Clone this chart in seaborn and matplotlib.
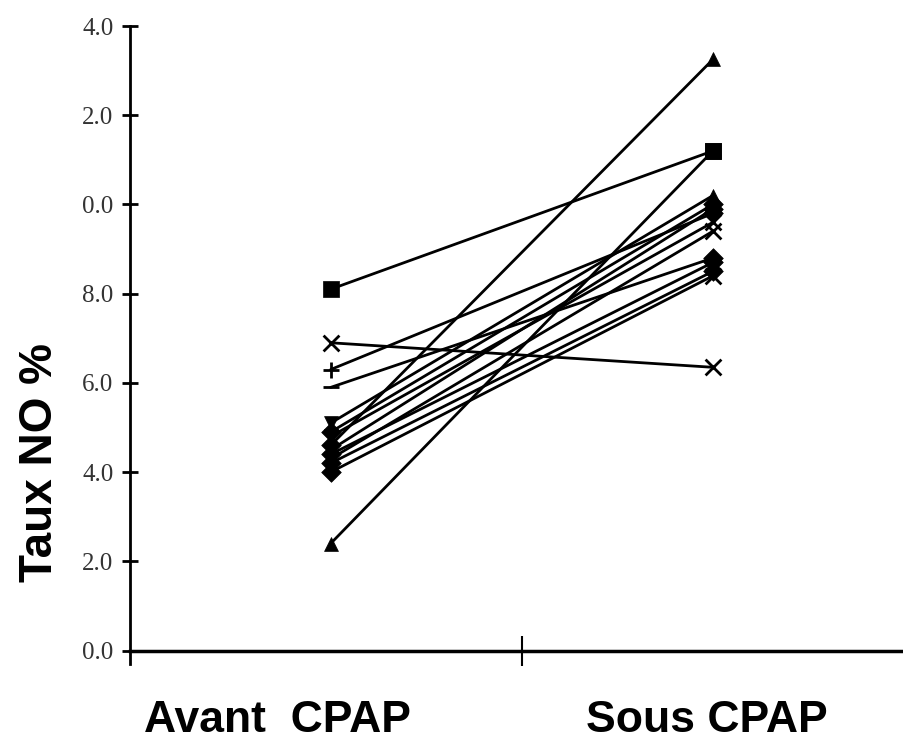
import matplotlib
matplotlib.use("Agg")
import matplotlib.pyplot as plt
import seaborn as sns
import pandas as pd

# ---- data ----
conditions = ["Avant  CPAP", "Sous CPAP"]
avant = [8.1, 6.9, 6.3, 5.9, 5.1, 4.9, 4.8, 4.6, 4.5, 4.4, 4.3, 4.2, 4.0, 2.4]
sous = [11.2, 6.35, 9.8, 8.8, 10.2, 10.0, 9.6, 13.25, 9.9, 8.7, 9.4, 8.5, 8.4, 11.2]
avant_markers = ["s", "x", "+", "_", "v", "D", "v", "D", "v", "D", "v", "D", "D", "^"]
sous_markers = ["s", "x", "D", "D", "^", "D", "x", "^", "D", "D", "x", "D", "x", "s"]
ytick_values = [0, 2, 4, 6, 8, 10, 12, 14]
ytick_labels = ["0.0", "2.0", "4.0", "6.0", "8.0", "0.0", "2.0", "4.0"]
ylabel = "Taux NO %"

x_pos = [0.5, 1.5]

rows = []
for i, (a, s) in enumerate(zip(avant, sous)):
    rows.append({"subject": i, "x": x_pos[0], "val": a, "marker": avant_markers[i]})
    rows.append({"subject": i, "x": x_pos[1], "val": s, "marker": sous_markers[i]})
df = pd.DataFrame(rows)

sns.set_style("white")
fig = plt.figure(figsize=(9.04, 7.48), dpi=100)
ax = fig.add_axes([130 / 904, 1 - 664 / 748, 1 - 130 / 904, (664 - 26) / 748])

sns.lineplot(data=df, x="x", y="val", units="subject", estimator=None,
             color="black", linewidth=2.0, ax=ax, legend=False)

for m, grp in df.groupby("marker"):
    filled = m in ("s", "D", "^", "v")
    kw = dict(color="black", ax=ax, legend=False, zorder=5)
    if filled:
        size = 120 if m == "s" else 100
        sns.scatterplot(data=grp, x="x", y="val", marker=m, s=size,
                        edgecolor="black", linewidth=0.5, **kw)
    else:
        sns.scatterplot(data=grp, x="x", y="val", marker=m, s=130,
                        linewidth=2.0, **kw)

ax.set_xlim(-0.025, 2.0)
ax.set_ylim(-0.3, 14)
ax.set_yticks(ytick_values)
ax.set_yticklabels(ytick_labels, fontfamily="Liberation Serif", fontsize=18, color="#333333")
ax.set_xticks([1.0])
ax.set_xticklabels([""])
ax.tick_params(axis="y", left=True, direction="inout", length=12, width=2, pad=6,
               color="black")
ax.tick_params(axis="x", bottom=True, direction="inout", length=22, width=1.5,
               color="black")
ax.set_xlabel("")
ax.set_ylabel("")

for side in ("top", "right"):
    ax.spines[side].set_visible(False)
ax.spines["bottom"].set_position(("data", 0))
ax.spines["bottom"].set_linewidth(2.5)
ax.spines["left"].set_linewidth(2)
ax.spines["bottom"].set_color("black")
ax.spines["left"].set_color("black")

fig.text(277 / 904, 1 - 720 / 748, conditions[0], ha="center", va="center",
         fontsize=32, fontweight="bold", family="Liberation Sans", color="black")
fig.text(707 / 904, 1 - 720 / 748, conditions[1], ha="center", va="center",
         fontsize=32, fontweight="bold", family="Liberation Sans", color="black")
fig.text(40 / 904, 1 - 462 / 748, ylabel, ha="center", va="center", rotation=90,
         fontsize=33, fontweight="bold", family="Liberation Sans", color="black")

fig.savefig("out.png", dpi=100)
